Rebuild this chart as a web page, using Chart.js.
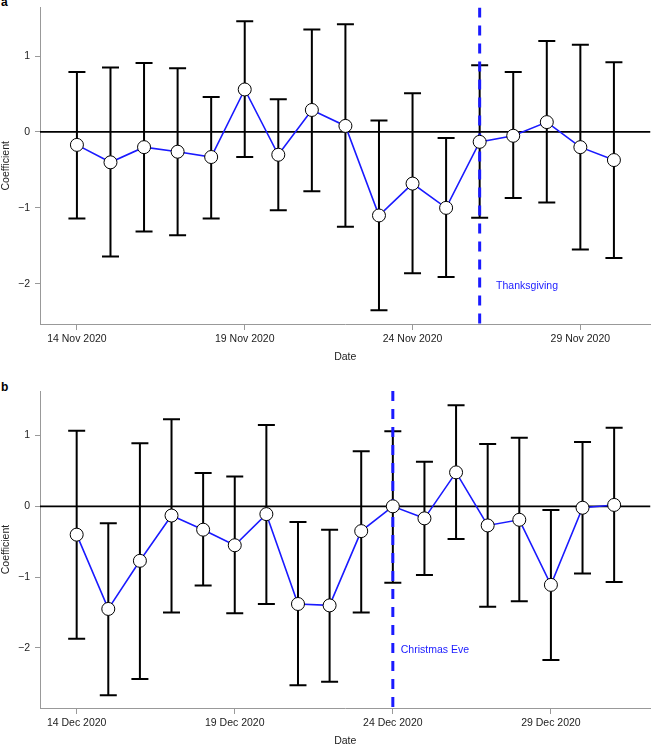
<!DOCTYPE html>
<html>
<head>
<meta charset="utf-8">
<script src="https://cdn.jsdelivr.net/npm/chart.js@4"></script>
<style>
  html, body { margin: 0; padding: 0; background: #fff; width: 658px; height: 745px; overflow: hidden; }
  canvas { position: absolute; left: 0; }
  .tag { position: absolute; left: 1px; font: bold 12px "Liberation Sans", Arial, sans-serif; color: #000; }
</style>
</head>
<body>
<div class="tag" style="top:-5px">a</div>
<canvas id="chartA" width="658" height="370" style="top:0"></canvas>
<div class="tag" style="top:380px">b</div>
<canvas id="chartB" width="658" height="375" style="top:375px"></canvas>
<script>
// Panel a: November 2020
const novDays = [14, 15, 16, 17, 18, 19, 20, 21, 22, 23, 24, 25, 26, 27, 28, 29, 30];
const novCoef = [-0.17, -0.40, -0.20, -0.26, -0.33, 0.56, -0.30, 0.29, 0.08, -1.10, -0.68, -1.00, -0.13, -0.05, 0.13, -0.20, -0.37];
const novLow  = [-1.14, -1.64, -1.31, -1.36, -1.14, -0.33, -1.03, -0.78, -1.25, -2.35, -1.86, -1.91, -1.13, -0.87, -0.93, -1.55, -1.66];
const novHigh = [0.79, 0.85, 0.91, 0.84, 0.46, 1.46, 0.43, 1.35, 1.42, 0.15, 0.51, -0.08, 0.88, 0.79, 1.20, 1.15, 0.92];
const novTicks = [14, 19, 24, 29];
const novTickLabels = ["14 Nov 2020", "19 Nov 2020", "24 Nov 2020", "29 Nov 2020"];
const thanksgivingDay = 26;

// Panel b: December 2020
const decDays = [14, 15, 16, 17, 18, 19, 20, 21, 22, 23, 24, 25, 26, 27, 28, 29, 30, 31];
const decCoef = [-0.40, -1.45, -0.77, -0.13, -0.33, -0.55, -0.11, -1.38, -1.40, -0.35, 0.00, -0.17, 0.48, -0.27, -0.19, -1.11, -0.02, 0.02];
const decLow  = [-1.87, -2.67, -2.44, -1.50, -1.12, -1.51, -1.38, -2.53, -2.48, -1.50, -1.08, -0.97, -0.46, -1.42, -1.34, -2.17, -0.95, -1.07];
const decHigh = [1.07, -0.24, 0.89, 1.23, 0.47, 0.42, 1.15, -0.22, -0.33, 0.78, 1.06, 0.63, 1.43, 0.88, 0.97, -0.05, 0.91, 1.11];
const decTicks = [14, 19, 24, 29];
const decTickLabels = ["14 Dec 2020", "19 Dec 2020", "24 Dec 2020", "29 Dec 2020"];
const christmasEveDay = 24;

const yTicks = [-2, -1, 0, 1];

const FONT = "'Liberation Sans', Arial, Helvetica, sans-serif";
const BLUE = "#1a1aff";
const AXIS_GREY = "#999";

// whiskers with caps, drawn under the datasets
const errorBars = (days, low, high) => ({
  id: "errorBars",
  beforeDatasetsDraw(chart) {
    const { ctx, scales: { x, y } } = chart;
    ctx.save();
    ctx.strokeStyle = "#000";
    ctx.lineWidth = 2;
    days.forEach((d, i) => {
      const px = x.getPixelForValue(d);
      const top = y.getPixelForValue(high[i]);
      const bot = y.getPixelForValue(low[i]);
      ctx.beginPath();
      ctx.moveTo(px, top); ctx.lineTo(px, bot);
      ctx.moveTo(px - 8.5, top); ctx.lineTo(px + 8.5, top);
      ctx.moveTo(px - 8.5, bot); ctx.lineTo(px + 8.5, bot);
      ctx.stroke();
    });
    ctx.restore();
  }
});

const noteLabel = (text, xVal, yVal) => ({
  id: "noteLabel",
  afterDatasetsDraw(chart) {
    const { ctx, scales: { x, y } } = chart;
    ctx.save();
    ctx.fillStyle = BLUE;
    ctx.font = `10.5px ${FONT}`;
    ctx.textAlign = "left";
    ctx.textBaseline = "middle";
    ctx.fillText(text, x.getPixelForValue(xVal), y.getPixelForValue(yVal));
    ctx.restore();
  }
});

function makePanel(id, p) {
  new Chart(document.getElementById(id), {
    type: "line",
    data: {
      datasets: [
        {
          // zero reference line
          data: [{ x: p.xMin, y: 0 }, { x: p.xMax, y: 0 }],
          borderColor: "#000",
          borderWidth: 1.8,
          pointRadius: 0,
          order: 3
        },
        {
          // holiday marker
          data: [{ x: p.holiday, y: p.yMax }, { x: p.holiday, y: p.yMin }],
          borderColor: BLUE,
          borderWidth: 3,
          borderDash: [10, 8],
          pointRadius: 0,
          order: 2
        },
        {
          data: p.days.map((d, i) => ({ x: d, y: p.coef[i] })),
          borderColor: BLUE,
          borderWidth: 1.6,
          pointRadius: 6.5,
          pointBackgroundColor: "#fff",
          pointBorderColor: "#000",
          pointBorderWidth: 1,
          order: 1
        }
      ]
    },
    options: {
      responsive: false,
      animation: false,
      layout: { padding: { top: p.padTop, left: 0, right: 0, bottom: 0 } },
      plugins: { legend: { display: false }, tooltip: { enabled: false } },
      scales: {
        x: {
          type: "linear",
          min: p.xMin,
          max: p.xMax,
          afterBuildTicks: s => { s.ticks = p.ticks.map(v => ({ value: v })); },
          afterFit: s => { s.height = p.xAxisH; s.paddingLeft = 0; s.paddingRight = 0; },
          ticks: {
            padding: 3,
            color: "#222",
            font: { family: FONT, size: 10.5 },
            maxRotation: 0,
            callback: v => p.tickLabels[p.ticks.indexOf(v)]
          },
          grid: { drawOnChartArea: false, drawTicks: true, tickLength: 6, color: AXIS_GREY },
          border: { display: true, color: AXIS_GREY, width: 1 },
          title: { display: true, text: "Date", color: "#222", font: { family: FONT, size: 10.5 }, padding: { top: 0, bottom: p.titlePad } }
        },
        y: {
          min: p.yMin,
          max: p.yMax,
          afterBuildTicks: s => { s.ticks = yTicks.map(v => ({ value: v })); },
          afterFit: s => { s.width = 40; s.paddingTop = 0; s.paddingBottom = 0; },
          ticks: {
            padding: 5,
            color: "#222",
            font: { family: FONT, size: 10.5 },
            callback: v => (v < 0 ? "\u2212" + Math.abs(v) : String(v))
          },
          grid: { drawOnChartArea: false, drawTicks: true, tickLength: 5, color: AXIS_GREY },
          border: { display: true, color: AXIS_GREY, width: 1 },
          title: { display: true, text: "Coefficient", color: "#222", font: { family: FONT, size: 10.5 }, padding: 0 }
        }
      }
    },
    plugins: [errorBars(p.days, p.low, p.high), noteLabel(p.note, p.noteX, p.noteY)]
  });
}

makePanel("chartA", {
  days: novDays, coef: novCoef, low: novLow, high: novHigh,
  ticks: novTicks, tickLabels: novTickLabels,
  holiday: thanksgivingDay, note: "Thanksgiving", noteX: 26.49, noteY: -2.03,
  xMin: 12.9, xMax: 31.09, yMin: -2.53, yMax: 1.64,
  padTop: 7, xAxisH: 46, titlePad: 6.4
});

makePanel("chartB", {
  days: decDays, coef: decCoef, low: decLow, high: decHigh,
  ticks: decTicks, tickLabels: decTickLabels,
  holiday: christmasEveDay, note: "Christmas Eve", noteX: 24.25, noteY: -2.03,
  xMin: 12.84, xMax: 32.15, yMin: -2.85, yMax: 1.63,
  padTop: 16, xAxisH: 42, titlePad: 2.7
});
</script>
</body>
</html>
